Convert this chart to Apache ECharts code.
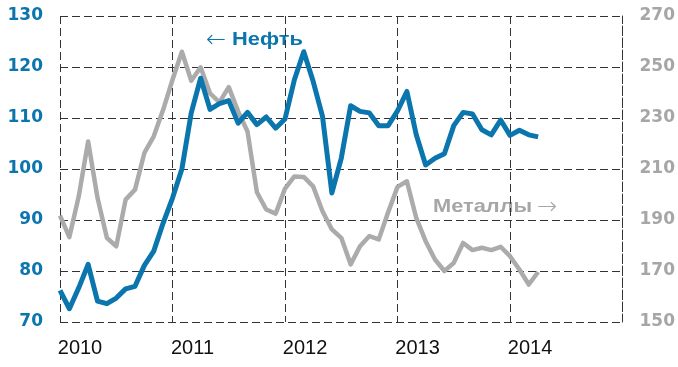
<!DOCTYPE html>
<html>
<head>
<meta charset="utf-8">
<script src="https://cdn.jsdelivr.net/npm/echarts@6/dist/echarts.min.js"></script>
<style>
  html, body { margin: 0; padding: 0; background: #fff; }
  #chart { width: 678px; height: 367px; }
</style>
</head>
<body>
<div id="chart"></div>
<script>
// Monthly timeline Jan 2010 .. Jan 2015 (axis spans five full years)
var years = [2010, 2011, 2012, 2013, 2014, 2015];
var months = [];
for (var y = 2010; y <= 2015; y++) {
  for (var m = 1; m <= 12; m++) {
    if (y === 2015 && m > 1) break;
    months.push(y + '-' + (m < 10 ? '0' + m : m));
  }
}

// Oil price, left axis (Jan 2010 .. Apr 2014)
var oil = [
  76.2, 72.6, 76.7, 81.3, 74.1, 73.6, 74.7, 76.5, 77.0, 81.1, 83.9, 89.4,
  94.3, 100.0, 111.0, 117.8, 111.7, 112.8, 113.4, 109.0, 111.1, 108.7, 110.2, 108.0,
  109.8, 117.5, 123.0, 117.2, 110.3, 95.3, 102.1, 112.4, 111.3, 111.0, 108.5, 108.5,
  111.4, 115.2, 106.7, 100.8, 102.1, 103.0, 108.5, 111.1, 110.8, 107.7, 106.7, 109.6,
  106.6, 107.6, 106.7, 106.3
];

// Metals index, right axis (Jan 2010 .. Apr 2014)
var metals = [
  191.7, 183.3, 199.3, 220.8, 198.7, 183.0, 179.7, 198.0, 201.9, 216.3, 222.8, 233.2,
  245.0, 256.0, 244.6, 249.9, 239.7, 236.1, 242.1, 232.6, 224.7, 200.9, 194.1, 192.5,
  202.3, 207.1, 206.9, 203.2, 193.4, 186.3, 183.0, 172.6, 179.7, 183.7, 182.4, 193.0,
  203.0, 205.2, 190.8, 181.7, 174.5, 170.0, 173.2, 181.0, 178.2, 179.1, 178.2, 179.5,
  175.8, 170.6, 164.7, 169.6
];

var leftTicks = { min: 70, max: 130, step: 10 };
var rightTicks = { min: 150, max: 270, step: 20 };

var BLUE = '#0B76AE';
var GRAY = '#ABABAB';
var GRAY_TEXT = '#A6A6A6';
var GRID = '#333333';
var FONT = 'Liberation Sans, Arial, sans-serif';
var WIDE = 'DejaVu Sans, sans-serif';

var dashed = { show: true, lineStyle: { color: GRID, width: 1, type: [8, 4] } };

function note(x, y, text, color, weight, size, sx, family) {
  return {
    type: 'text', x: x, y: y, scaleX: sx, scaleY: 1, silent: true,
    style: {
      text: text, fill: color, fontFamily: family || FONT, fontSize: size,
      fontWeight: weight, verticalAlign: 'middle', align: 'left'
    }
  };
}

var chart = echarts.init(document.getElementById('chart'), null, { renderer: 'canvas' });
chart.setOption({
  animation: false,
  backgroundColor: '#ffffff',
  grid: { left: 60, right: 53, top: 16, bottom: 45, containLabel: false },
  xAxis: {
    type: 'category',
    data: months,
    boundaryGap: false,
    axisLine: { show: false },
    axisTick: { show: false },
    splitLine: Object.assign({ interval: 11 }, dashed),
    axisLabel: {
      interval: 11,
      margin: 16,
      color: '#111',
      fontFamily: FONT,
      fontSize: 20,
      padding: [0, 0, 0, 40],
      formatter: function (v) {
        var yr = parseInt(v.slice(0, 4), 10);
        return (v.slice(5) === '01' && yr < years[years.length - 1]) ? String(yr) : '';
      }
    }
  },
  yAxis: [
    {
      type: 'value',
      min: leftTicks.min, max: leftTicks.max, interval: leftTicks.step,
      position: 'left',
      axisLine: { show: false },
      axisTick: { show: false },
      splitLine: dashed,
      axisLabel: { color: BLUE, fontFamily: WIDE, fontSize: 17, fontWeight: 'bold', margin: 17 }
    },
    {
      type: 'value',
      min: rightTicks.min, max: rightTicks.max, interval: rightTicks.step,
      position: 'right',
      axisLine: { show: true, lineStyle: { color: GRID, width: 1, type: [8, 4] } },
      axisTick: { show: false },
      splitLine: { show: false },
      axisLabel: { color: GRAY_TEXT, fontFamily: WIDE, fontSize: 17, fontWeight: 'bold', margin: 17 }
    }
  ],
  series: [
    {
      name: 'Металлы',
      type: 'line',
      yAxisIndex: 1,
      data: metals,
      showSymbol: false,
      lineStyle: { color: GRAY, width: 4.5, join: 'round' },
      z: 2
    },
    {
      name: 'Нефть',
      type: 'line',
      yAxisIndex: 0,
      data: oil,
      showSymbol: false,
      lineStyle: { color: BLUE, width: 5, join: 'round' },
      z: 3
    }
  ],
  graphic: [
    note(206, 41, '←', BLUE, 200, 24, 1, WIDE),
    note(232, 40, 'Нефть', BLUE, 'bold', 18.5, 1.18),
    note(433, 207, 'Металлы', GRAY_TEXT, 'bold', 18.5, 1.18),
    note(537, 208, '→', GRAY_TEXT, 200, 24, 1, WIDE)
  ]
});
</script>
</body>
</html>
